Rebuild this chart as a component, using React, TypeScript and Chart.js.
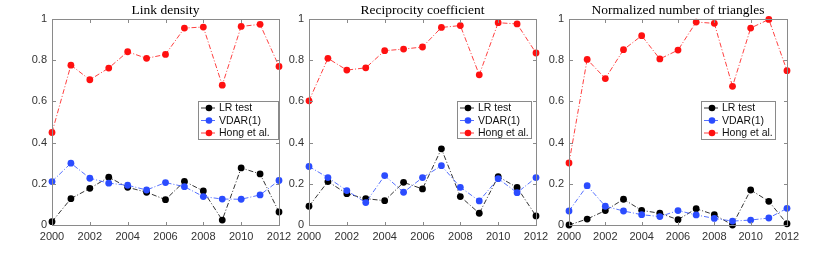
import React, { useEffect, useRef } from "react";
import { Chart, registerables } from "chart.js";

Chart.register(...registerables);

const years = [2000, 2001, 2002, 2003, 2004, 2005, 2006, 2007, 2008, 2009, 2010, 2011, 2012];
const xTicks = [2000, 2002, 2004, 2006, 2008, 2010, 2012];
const yTicks = [0, 0.2, 0.4, 0.6, 0.8, 1];
const seriesNames = ["LR test", "VDAR(1)", "Hong et al."];
const titles = ["Link density", "Reciprocity coefficient", "Normalized number of triangles"];

const linkLR = [0.016, 0.128, 0.178, 0.232, 0.183, 0.159, 0.123, 0.212, 0.165, 0.024, 0.277, 0.248, 0.063];
const linkVDAR = [0.211, 0.300, 0.227, 0.203, 0.193, 0.170, 0.206, 0.186, 0.138, 0.126, 0.125, 0.146, 0.216];
const linkHong = [0.449, 0.776, 0.705, 0.762, 0.841, 0.809, 0.828, 0.956, 0.961, 0.679, 0.964, 0.974, 0.770];

const recLR = [0.091, 0.211, 0.152, 0.128, 0.118, 0.207, 0.175, 0.370, 0.138, 0.057, 0.235, 0.182, 0.044];
const recVDAR = [0.284, 0.230, 0.167, 0.109, 0.240, 0.159, 0.230, 0.288, 0.183, 0.117, 0.225, 0.157, 0.230];
const recHong = [0.603, 0.809, 0.752, 0.763, 0.846, 0.854, 0.864, 0.959, 0.968, 0.729, 0.982, 0.976, 0.835];

const triLR = [0.0, 0.029, 0.070, 0.125, 0.071, 0.057, 0.026, 0.079, 0.050, 0.0, 0.170, 0.115, 0.006];
const triVDAR = [0.068, 0.191, 0.091, 0.068, 0.050, 0.041, 0.070, 0.049, 0.032, 0.019, 0.024, 0.034, 0.081];
const triHong = [0.301, 0.804, 0.711, 0.851, 0.919, 0.806, 0.849, 0.985, 0.979, 0.673, 0.956, 0.998, 0.749];

const colors = ["#000000", "#2b4cff", "#ff1010"];

const W = 822;
const H = 253;

type PanelSpec = {
  title: string;
  series: number[][];
  plotLeft: number;
  plotRight: number;
  legend: { left: number; top: number; right: number; bottom: number };
};

const panels: PanelSpec[] = [
  { title: titles[0], series: [linkLR, linkVDAR, linkHong], plotLeft: 52, plotRight: 279, legend: { left: 198, top: 101, right: 279, bottom: 140 } },
  { title: titles[1], series: [recLR, recVDAR, recHong], plotLeft: 309, plotRight: 536, legend: { left: 457, top: 101, right: 532, bottom: 139 } },
  { title: titles[2], series: [triLR, triVDAR, triHong], plotLeft: 569, plotRight: 787, legend: { left: 701, top: 101, right: 776, bottom: 140 } },
];

const PLOT_TOP = 19;
const PLOT_BOTTOM = 225;
const Y_AXIS_W = 30;
const X_AXIS_H = 20;
const DASH = [5, 2, 1, 2];
const FRAME = "#8a8a8a";

function makeChart(canvas: HTMLCanvasElement, p: PanelSpec) {
  const framePlugin = {
    id: "matlabFrame",
    afterDraw(chart: any) {
      const ctx = chart.ctx as CanvasRenderingContext2D;
      const a = chart.chartArea;
      const xs = chart.scales.x;
      const ys = chart.scales.y;
      ctx.save();
      ctx.setLineDash([]);
      ctx.globalAlpha = 1;
      ctx.globalCompositeOperation = "source-over";
      const l = Math.round(a.left);
      const r = Math.round(a.right);
      const t = Math.round(a.top);
      const b = Math.round(a.bottom);
      ctx.fillStyle = FRAME;
      ctx.fillRect(l, t, r - l + 1, 1);
      ctx.fillRect(l, b, r - l + 1, 1);
      ctx.fillRect(l, t, 1, b - t + 1);
      ctx.fillRect(r, t, 1, b - t + 1);
      const tl = 3;
      xTicks.forEach((v) => {
        const px = Math.round(xs.getPixelForValue(v));
        ctx.fillRect(px, b - tl, 1, tl);
        ctx.fillRect(px, t + 1, 1, tl);
      });
      yTicks.forEach((v) => {
        const py = Math.round(ys.getPixelForValue(v));
        ctx.fillRect(l + 1, py, tl, 1);
        ctx.fillRect(r - tl, py, tl, 1);
      });

      // title
      ctx.fillStyle = "#000";
      ctx.font = '13.5px "Liberation Serif", "DejaVu Serif", serif';
      ctx.textAlign = "center";
      ctx.textBaseline = "middle";
      ctx.fillText(p.title, (a.left + a.right) / 2, 10);

      // legend
      const L = p.legend;
      ctx.fillStyle = "#ffffff";
      ctx.fillRect(L.left, L.top, L.right - L.left, L.bottom - L.top);
      ctx.fillStyle = FRAME;
      ctx.fillRect(L.left, L.top, L.right - L.left, 1);
      ctx.fillRect(L.left, L.bottom - 1, L.right - L.left, 1);
      ctx.fillRect(L.left, L.top, 1, L.bottom - L.top);
      ctx.fillRect(L.right - 1, L.top, 1, L.bottom - L.top);
      ctx.font = '10.5px "Liberation Sans", Arial, sans-serif';
      ctx.textAlign = "left";
      ctx.textBaseline = "middle";
      seriesNames.forEach((name, i) => {
        const y = L.top + 7 + i * 12.5;
        ctx.strokeStyle = colors[i];
        ctx.lineWidth = 0.8;
        ctx.setLineDash(DASH);
        ctx.beginPath();
        ctx.moveTo(L.left + 3, y);
        ctx.lineTo(L.left + 17, y);
        ctx.stroke();
        ctx.setLineDash([]);
        ctx.fillStyle = colors[i];
        ctx.beginPath();
        ctx.arc(L.left + 11, y, 3.3, 0, Math.PI * 2);
        ctx.fill();
        ctx.fillStyle = "#111";
        ctx.fillText(name, L.left + 21, y + 0.5);
      });
      ctx.restore();
    },
  };

  const datasets = p.series.map((vals, i) => ({
    label: seriesNames[i],
    data: vals.map((v, j) => ({ x: years[j], y: v })),
    borderColor: colors[i],
    backgroundColor: colors[i],
    borderWidth: 0.8,
    borderDash: DASH,
    pointRadius: 3.4,
    pointBorderWidth: 0,
    pointBackgroundColor: colors[i],
    tension: 0,
    clip: false,
    order: 3 - i,
  }));

  return new Chart(canvas, {
    type: "line",
    data: { datasets },
    options: {
      animation: false,
      responsive: false,
      maintainAspectRatio: false,
      events: [],
      layout: {
        padding: {
          left: p.plotLeft - Y_AXIS_W,
          right: W - p.plotRight,
          top: PLOT_TOP,
          bottom: H - PLOT_BOTTOM - X_AXIS_H,
        },
      },
      plugins: { legend: { display: false }, title: { display: false }, tooltip: { enabled: false } },
      scales: {
        x: {
          type: "linear",
          min: 2000,
          max: 2012,
          afterFit: (s: any) => { s.height = X_AXIS_H; },
          afterBuildTicks: (s: any) => { s.ticks = xTicks.map((v) => ({ value: v })); },
          ticks: {
            padding: 5,
            color: "#333",
            font: { family: '"Liberation Sans", Arial, sans-serif', size: 11 },
            maxRotation: 0,
            autoSkip: false,
            callback: (v: any) => String(v),
          },
          grid: { display: false, drawTicks: false },
          border: { display: false },
        },
        y: {
          type: "linear",
          min: 0,
          max: 1,
          afterFit: (s: any) => { s.width = Y_AXIS_W; },
          afterBuildTicks: (s: any) => { s.ticks = yTicks.map((v) => ({ value: v })); },
          ticks: {
            padding: 5,
            color: "#333",
            font: { family: '"Liberation Sans", Arial, sans-serif', size: 11 },
            callback: (v: any) => (v === 0 ? "0" : v === 1 ? "1" : Number(v).toFixed(1)),
          },
          grid: { display: false, drawTicks: false },
          border: { display: false },
        },
      },
    },
    plugins: [framePlugin],
  } as any);
}

function Panel({ spec }: { spec: PanelSpec }) {
  const ref = useRef<HTMLCanvasElement | null>(null);
  useEffect(() => {
    if (!ref.current) return;
    const c = makeChart(ref.current, spec);
    return () => c.destroy();
  }, [spec]);
  return (
    <canvas
      ref={ref}
      width={W}
      height={H}
      style={{ position: "absolute", left: 0, top: 0, width: W, height: H }}
    />
  );
}

export default function App() {
  return (
    <div style={{ position: "fixed", left: 0, top: 0, width: W, height: H, background: "#fff" }}>
      {panels.map((p) => (
        <Panel key={p.title} spec={p} />
      ))}
    </div>
  );
}
